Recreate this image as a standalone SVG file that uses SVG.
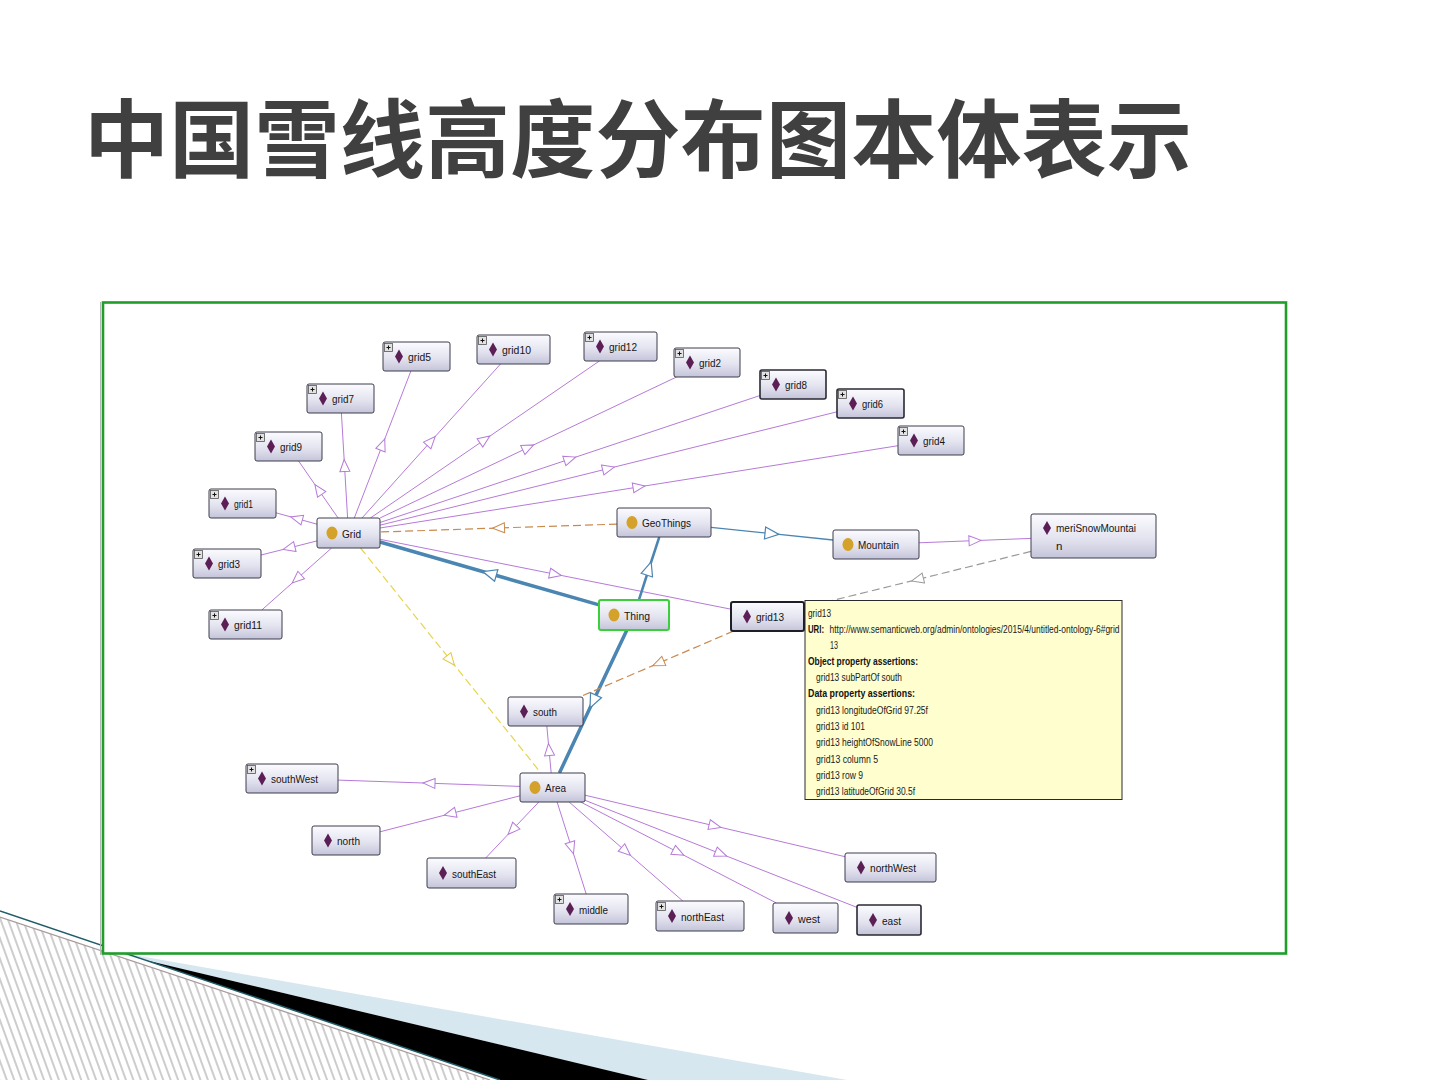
<svg xmlns="http://www.w3.org/2000/svg" width="1440" height="1080" viewBox="0 0 1440 1080">
<defs>
<style>
.title{font-family:"Noto Sans CJK SC","Noto Sans",sans-serif;font-weight:bold;font-size:85px;fill:#404040}
.nd{fill:url(#ng);stroke:#3c3c4c;stroke-width:1}
.lb{font-family:"Liberation Sans",Arial,sans-serif;font-size:11.5px;fill:#151515}
.tt{font-family:"Liberation Sans",Arial,sans-serif;font-size:10px;fill:#1a1a1a}
.ttb{font-family:"Liberation Sans",Arial,sans-serif;font-size:10px;font-weight:bold;fill:#111}
.ep{fill:none;stroke:#b67ad8;stroke-width:1;marker-mid:url(#mP)}
.eb{fill:none;stroke:#4b85b2;stroke-width:3.5;marker-mid:url(#mB)}
.ebt{fill:none;stroke:#4b85b2;stroke-width:1.3;marker-mid:url(#mB)}
.eo{fill:none;stroke:#c98a50;stroke-width:1.2;stroke-dasharray:8 4;marker-mid:url(#mO)}
.ey{fill:none;stroke:#e8d44a;stroke-width:1.2;stroke-dasharray:8 4;marker-mid:url(#mY)}
.eg{fill:none;stroke:#9a9a9a;stroke-width:1.2;stroke-dasharray:8 4;marker-mid:url(#mG)}
</style>
<linearGradient id="ng" x1="0" y1="0" x2="0" y2="1">
<stop offset="0" stop-color="#fbfbff"/>
<stop offset="0.55" stop-color="#e4e4f0"/>
<stop offset="1" stop-color="#c4c4da"/>
</linearGradient>
<pattern id="hatch" width="7" height="7" patternUnits="userSpaceOnUse" patternTransform="rotate(-20)">
<rect width="7" height="7" fill="#ffffff"/>
<line x1="1" y1="0" x2="1" y2="7" stroke="#9c9c9c" stroke-width="1"/>
</pattern>
<marker id="mP" markerUnits="userSpaceOnUse" viewBox="0 0 14 12" refX="7" refY="6" markerWidth="14" markerHeight="12" orient="auto">
<path d="M1,1 L13,6 L1,11 Z" fill="#ffffff" stroke="#b67ad8" stroke-width="1"/>
</marker>
<marker id="mB" markerUnits="userSpaceOnUse" viewBox="0 0 16 14" refX="8" refY="7" markerWidth="16" markerHeight="14" orient="auto">
<path d="M1,1 L15,7 L1,13 Z" fill="#ffffff" stroke="#4b85b2" stroke-width="1.2"/>
</marker>
<marker id="mO" markerUnits="userSpaceOnUse" viewBox="0 0 14 12" refX="7" refY="6" markerWidth="14" markerHeight="12" orient="auto">
<path d="M1,1 L13,6 L1,11 Z" fill="#ffffff" stroke="#c98a50" stroke-width="1"/>
</marker>
<marker id="mY" markerUnits="userSpaceOnUse" viewBox="0 0 14 12" refX="7" refY="6" markerWidth="14" markerHeight="12" orient="auto">
<path d="M1,1 L13,6 L1,11 Z" fill="#ffffff" stroke="#e0c840" stroke-width="1"/>
</marker>
<marker id="mG" markerUnits="userSpaceOnUse" viewBox="0 0 14 12" refX="7" refY="6" markerWidth="14" markerHeight="12" orient="auto">
<path d="M1,1 L13,6 L1,11 Z" fill="#ffffff" stroke="#9a9a9a" stroke-width="1"/>
</marker>
<path id="dia" d="M0,-7 L4,0 L0,7 L-4,0 Z" fill="#5b1f55"/>
<ellipse id="cls" cx="0" cy="0" rx="5.5" ry="6.5" fill="#d4a12a"/>
<g id="plus">
<rect x="0.5" y="0.5" width="8" height="8" fill="#e2e2e2" stroke="#555" stroke-width="0.8"/>
<path d="M2.5,4.5 H6.5 M4.5,2.5 V6.5" stroke="#111" stroke-width="1"/>
</g>
</defs>

<rect width="1440" height="1080" fill="#ffffff"/>

<!-- decoration bottom-left -->
<g id="decoration">
<polygon points="0,917 490,1080 0,1080" fill="url(#hatch)"/>
<line x1="0" y1="917" x2="490" y2="1080" stroke="#a89a9a" stroke-width="1.2"/>
<polygon points="94,948 847,1080 648,1080" fill="#d6e7ef"/>
<polygon points="145,960 648,1080 500,1080" fill="#000000"/>
<line x1="0" y1="911" x2="500" y2="1080" stroke="#1f5c68" stroke-width="1.5"/>
</g>

<!-- title -->
<text class="title" x="84" y="171" textLength="1108" lengthAdjust="spacing">中国雪线高度分布图本体表示</text>

<!-- frame -->
<g id="frame">
<line x1="100.5" y1="302" x2="100.5" y2="955" stroke="#b8b8b8" stroke-width="1"/>
<rect x="103" y="302.5" width="1183" height="651" fill="#ffffff" stroke="#1f9e2a" stroke-width="2.6"/>
</g>

<!-- connectors -->
<g id="connectors">
<path class="ep" d="M354.3,518 L382.6,444.5 L410.9,371"/>
<path class="ep" d="M362,518 L431.2,441 L500.5,364"/>
<path class="ep" d="M370.4,518 L484.9,439.5 L599.4,361"/>
<path class="ep" d="M380,518 L528.2,447.5 L676.5,377"/>
<path class="ep" d="M380,522.5 L570,459 L760,395.5"/>
<path class="ep" d="M380,525.2 L608.5,468.5 L837,411.8"/>
<path class="ep" d="M380,528 L639,486.9 L898,445.7"/>
<path class="ep" d="M347.6,518 L344.5,465.5 L341.4,413"/>
<path class="ep" d="M338.1,518 L318.3,489.5 L298.6,461"/>
<path class="ep" d="M317,524.2 L296.5,518.5 L276,512.8"/>
<path class="ep" d="M317,540.9 L289,548 L261,555"/>
<path class="ep" d="M331.6,548 L296.7,579 L261.8,610"/>
<path class="ep" d="M380,539.3 L555.5,574.3 L731,609.2"/>
<path class="eo" d="M617,524.1 L498.5,528 L380,532"/>
<path class="eb" d="M599,604.9 L489.5,573.5 L380,542"/>
<path class="eb" style="stroke-width:2.5" d="M638.9,600 L649,568.5 L659.3,537"/>
<path class="eb" d="M626.9,630 L593,701.5 L559.4,773"/>
<path class="ebt" d="M711,527.4 L772,533.7 L833,540"/>
<path class="ep" d="M919,542.8 L975,540.6 L1031,538.4"/>
<path class="eg" d="M1031,551.4 L917.5,579.5 L804,607.5"/>
<path class="eo" d="M733.6,631 L658.3,663.3 L583,695.5"/>
<path class="ey" d="M360.5,548 L450.7,660.5 L540.9,773"/>
<path class="ep" d="M551.2,773 L549,749.5 L546.8,726"/>
<path class="ep" d="M520,786.4 L429,783.2 L338,780.1"/>
<path class="ep" d="M520,795.8 L450,813.8 L380,831.8"/>
<path class="ep" d="M538.8,802 L512.2,830 L485.7,858"/>
<path class="ep" d="M557.1,802 L571.7,848 L586.2,894"/>
<path class="ep" d="M569.1,802 L626,851.5 L682.8,901"/>
<path class="ep" d="M580.6,802 L678.5,852.5 L776.4,903"/>
<path class="ep" d="M585,800.3 L721,853.9 L857,907.4"/>
<path class="ep" d="M585,795.2 L715,826 L845,856.7"/>
</g>

<!-- nodes -->
<g id="node-grid5"><rect class="nd" x="383" y="342" width="67" height="29" rx="2"/><use href="#plus" x="384" y="343"/><use href="#dia" x="399" y="356.5"/><text class="lb" x="408" y="361" textLength="23" lengthAdjust="spacingAndGlyphs">grid5</text></g>
<g id="node-grid10"><rect class="nd" x="477" y="335" width="73" height="29" rx="2"/><use href="#plus" x="478" y="336"/><use href="#dia" x="493" y="349.5"/><text class="lb" x="502" y="354" textLength="29" lengthAdjust="spacingAndGlyphs">grid10</text></g>
<g id="node-grid12"><rect class="nd" x="584" y="332" width="73" height="29" rx="2"/><use href="#plus" x="585" y="333"/><use href="#dia" x="600" y="346.5"/><text class="lb" x="609" y="351" textLength="28" lengthAdjust="spacingAndGlyphs">grid12</text></g>
<g id="node-grid2"><rect class="nd" x="674" y="348" width="66" height="29" rx="2"/><use href="#plus" x="675" y="349"/><use href="#dia" x="690" y="362.5"/><text class="lb" x="699" y="367" textLength="22" lengthAdjust="spacingAndGlyphs">grid2</text></g>
<g id="node-grid8"><rect class="nd" x="760" y="370" width="66" height="29" rx="2" style="stroke-width:1.6;stroke:#2a2a34"/><use href="#plus" x="761" y="371"/><use href="#dia" x="776" y="384.5"/><text class="lb" x="785" y="389" textLength="22" lengthAdjust="spacingAndGlyphs">grid8</text></g>
<g id="node-grid6"><rect class="nd" x="837" y="389" width="67" height="29" rx="2" style="stroke-width:1.6;stroke:#2a2a34"/><use href="#plus" x="838" y="390"/><use href="#dia" x="853" y="403.5"/><text class="lb" x="862" y="408" textLength="21" lengthAdjust="spacingAndGlyphs">grid6</text></g>
<g id="node-grid4"><rect class="nd" x="898" y="426" width="66" height="29" rx="2"/><use href="#plus" x="899" y="427"/><use href="#dia" x="914" y="440.5"/><text class="lb" x="923" y="445" textLength="22" lengthAdjust="spacingAndGlyphs">grid4</text></g>
<g id="node-grid7"><rect class="nd" x="307" y="384" width="67" height="29" rx="2"/><use href="#plus" x="308" y="385"/><use href="#dia" x="323" y="398.5"/><text class="lb" x="332" y="403" textLength="22" lengthAdjust="spacingAndGlyphs">grid7</text></g>
<g id="node-grid9"><rect class="nd" x="255" y="432" width="67" height="29" rx="2"/><use href="#plus" x="256" y="433"/><use href="#dia" x="271" y="446.5"/><text class="lb" x="280" y="451" textLength="22" lengthAdjust="spacingAndGlyphs">grid9</text></g>
<g id="node-grid1"><rect class="nd" x="209" y="489" width="67" height="29" rx="2"/><use href="#plus" x="210" y="490"/><use href="#dia" x="225" y="503.5"/><text class="lb" x="234" y="508" textLength="19" lengthAdjust="spacingAndGlyphs">grid1</text></g>
<g id="node-grid3"><rect class="nd" x="193" y="549" width="68" height="29" rx="2"/><use href="#plus" x="194" y="550"/><use href="#dia" x="209" y="563.5"/><text class="lb" x="218" y="568" textLength="22" lengthAdjust="spacingAndGlyphs">grid3</text></g>
<g id="node-grid11"><rect class="nd" x="209" y="610" width="73" height="29" rx="2"/><use href="#plus" x="210" y="611"/><use href="#dia" x="225" y="624.5"/><text class="lb" x="234" y="629" textLength="28" lengthAdjust="spacingAndGlyphs">grid11</text></g>
<g id="node-Grid"><rect class="nd" x="317" y="518" width="63" height="30" rx="2"/><use href="#cls" x="332" y="533"/><text class="lb" x="342" y="537.5" textLength="19" lengthAdjust="spacingAndGlyphs">Grid</text></g>
<g id="node-GeoThings"><rect class="nd" x="617" y="508" width="94" height="29" rx="2"/><use href="#cls" x="632" y="522.5"/><text class="lb" x="642" y="527" textLength="49" lengthAdjust="spacingAndGlyphs">GeoThings</text></g>
<g id="node-Mountain"><rect class="nd" x="833" y="530" width="86" height="29" rx="2"/><use href="#cls" x="848" y="544.5"/><text class="lb" x="858" y="549" textLength="41" lengthAdjust="spacingAndGlyphs">Mountain</text></g>
<g id="node-meriSnowMountain"><rect class="nd" x="1031" y="514" width="125" height="44" rx="2"/><use href="#dia" x="1047" y="528"/><text class="lb" x="1056" y="532" textLength="80" lengthAdjust="spacingAndGlyphs">meriSnowMountai</text><text class="lb" x="1056" y="550">n</text></g>
<g id="node-Thing"><rect class="nd" x="599" y="600" width="70" height="30" rx="2" style="stroke:#3ccf3c;stroke-width:2"/><use href="#cls" x="614" y="615"/><text class="lb" x="624" y="619.5" textLength="26" lengthAdjust="spacingAndGlyphs">Thing</text></g>
<g id="node-south"><rect class="nd" x="508" y="697" width="75" height="29" rx="2"/><use href="#dia" x="524" y="711.5"/><text class="lb" x="533" y="716" textLength="24" lengthAdjust="spacingAndGlyphs">south</text></g>
<g id="node-Area"><rect class="nd" x="520" y="773" width="65" height="29" rx="2"/><use href="#cls" x="535" y="787.5"/><text class="lb" x="545" y="792" textLength="21" lengthAdjust="spacingAndGlyphs">Area</text></g>
<g id="node-southWest"><rect class="nd" x="246" y="764" width="92" height="29" rx="2"/><use href="#plus" x="247" y="765"/><use href="#dia" x="262" y="778.5"/><text class="lb" x="271" y="783" textLength="47" lengthAdjust="spacingAndGlyphs">southWest</text></g>
<g id="node-north"><rect class="nd" x="312" y="826" width="68" height="29" rx="2"/><use href="#dia" x="328" y="840.5"/><text class="lb" x="337" y="845" textLength="23" lengthAdjust="spacingAndGlyphs">north</text></g>
<g id="node-southEast"><rect class="nd" x="427" y="858" width="89" height="30" rx="2"/><use href="#dia" x="443" y="873"/><text class="lb" x="452" y="877.5" textLength="44" lengthAdjust="spacingAndGlyphs">southEast</text></g>
<g id="node-middle"><rect class="nd" x="554" y="894" width="74" height="30" rx="2"/><use href="#plus" x="555" y="895"/><use href="#dia" x="570" y="909"/><text class="lb" x="579" y="913.5" textLength="29" lengthAdjust="spacingAndGlyphs">middle</text></g>
<g id="node-northEast"><rect class="nd" x="656" y="901" width="88" height="30" rx="2"/><use href="#plus" x="657" y="902"/><use href="#dia" x="672" y="916"/><text class="lb" x="681" y="920.5" textLength="43" lengthAdjust="spacingAndGlyphs">northEast</text></g>
<g id="node-west"><rect class="nd" x="773" y="903" width="65" height="30" rx="2"/><use href="#dia" x="789" y="918"/><text class="lb" x="798" y="922.5" textLength="22" lengthAdjust="spacingAndGlyphs">west</text></g>
<g id="node-east"><rect class="nd" x="857" y="905" width="64" height="30" rx="2" style="stroke-width:1.6;stroke:#2a2a34"/><use href="#dia" x="873" y="920"/><text class="lb" x="882" y="924.5" textLength="19" lengthAdjust="spacingAndGlyphs">east</text></g>
<g id="node-northWest"><rect class="nd" x="845" y="853" width="91" height="29" rx="2"/><use href="#dia" x="861" y="867.5"/><text class="lb" x="870" y="872" textLength="46" lengthAdjust="spacingAndGlyphs">northWest</text></g>
<g id="node-grid13"><rect class="nd" x="731" y="602" width="73" height="29" rx="2" style="stroke-width:2;stroke:#1e1e28"/><use href="#dia" x="747" y="616.5"/><text class="lb" x="756" y="621" textLength="28" lengthAdjust="spacingAndGlyphs">grid13</text></g>

<!-- tooltip -->
<g id="tooltip">
<rect x="805" y="600.5" width="317" height="199" fill="#fefecf" stroke="#2a2a2a" stroke-width="1"/>
<text class="tt" x="808" y="617" textLength="23" lengthAdjust="spacingAndGlyphs">grid13</text>
<text class="ttb" x="808" y="633" textLength="16" lengthAdjust="spacingAndGlyphs">URI:</text>
<text class="tt" x="829.5" y="633" textLength="290" lengthAdjust="spacingAndGlyphs">http://www.semanticweb.org/admin/ontologies/2015/4/untitled-ontology-6#grid</text>
<text class="tt" x="830" y="649" textLength="8" lengthAdjust="spacingAndGlyphs">13</text>
<text class="ttb" x="808" y="665" textLength="110" lengthAdjust="spacingAndGlyphs">Object property assertions:</text>
<text class="tt" x="816" y="681" textLength="86" lengthAdjust="spacingAndGlyphs">grid13 subPartOf south</text>
<text class="ttb" x="808" y="697" textLength="107" lengthAdjust="spacingAndGlyphs">Data property assertions:</text>
<text class="tt" x="816" y="714" textLength="112" lengthAdjust="spacingAndGlyphs">grid13 longitudeOfGrid 97.25f</text>
<text class="tt" x="816" y="730" textLength="49" lengthAdjust="spacingAndGlyphs">grid13 id 101</text>
<text class="tt" x="816" y="746" textLength="117" lengthAdjust="spacingAndGlyphs">grid13 heightOfSnowLine 5000</text>
<text class="tt" x="816" y="763" textLength="62" lengthAdjust="spacingAndGlyphs">grid13 column 5</text>
<text class="tt" x="816" y="779" textLength="47" lengthAdjust="spacingAndGlyphs">grid13 row 9</text>
<text class="tt" x="816" y="795" textLength="99" lengthAdjust="spacingAndGlyphs">grid13 latitudeOfGrid 30.5f</text>
</g>
</svg>
